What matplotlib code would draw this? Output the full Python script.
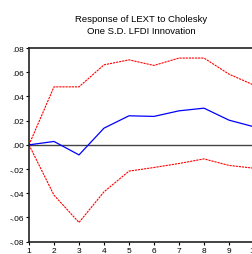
import matplotlib
matplotlib.use("Agg")
import matplotlib.pyplot as plt

periods = [1, 2, 3, 4, 5, 6, 7, 8, 9, 10]
response = [0.0, 0.0028, -0.0083, 0.0138, 0.0240, 0.0235, 0.0281, 0.0303, 0.0204, 0.0149]
upper = [0.0, 0.0479, 0.0479, 0.0661, 0.0702, 0.0656, 0.0717, 0.0717, 0.0584, 0.0493]
lower = [0.0, -0.0416, -0.0641, -0.0388, -0.0217, -0.0187, -0.0154, -0.0116, -0.0170, -0.0193]

yticks = [0.08, 0.06, 0.04, 0.02, 0.0, -0.02, -0.04, -0.06, -0.08]
ylabels = [".08", ".06", ".04", ".02", ".00", "-.02", "-.04", "-.06", "-.08"]

plt.rcParams["font.family"] = ["Liberation Sans", "DejaVu Sans"]

fig = plt.figure(figsize=(2.53, 2.55), dpi=100)
ax = fig.add_axes([29 / 253, 12.3 / 255, 225 / 253, 193.7 / 255])

ax.axhline(0, color="#444444", linewidth=1.0, zorder=1)
ax.plot(periods, upper, color="red", linewidth=0.8, linestyle=(0, (2, 0.8)), zorder=2)
ax.plot(periods, lower, color="red", linewidth=0.8, linestyle=(0, (2, 0.8)), zorder=2)
ax.plot(periods, response, color="blue", linewidth=0.9, zorder=3)

ax.set_xlim(1, 10)
ax.set_ylim(-0.08, 0.08)
ax.set_xticks(periods)
ax.set_xticklabels([str(p) for p in periods])
ax.set_yticks(yticks)
ax.set_yticklabels(ylabels)
ax.tick_params(direction="out", length=2.5, width=0.8, labelsize=6, pad=1)

for side in ["left", "bottom", "top", "right"]:
    ax.spines[side].set_linewidth(1.2)
    ax.spines[side].set_color("#222222")

fig.text(141.5 / 253, 1 - 19 / 255, "Response of LEXT to Cholesky",
         ha="center", va="center", fontsize=6.8)
fig.text(141.5 / 253, 1 - 31 / 255, "One S.D. LFDI Innovation",
         ha="center", va="center", fontsize=6.8)

fig.savefig("out.png", dpi=100)
